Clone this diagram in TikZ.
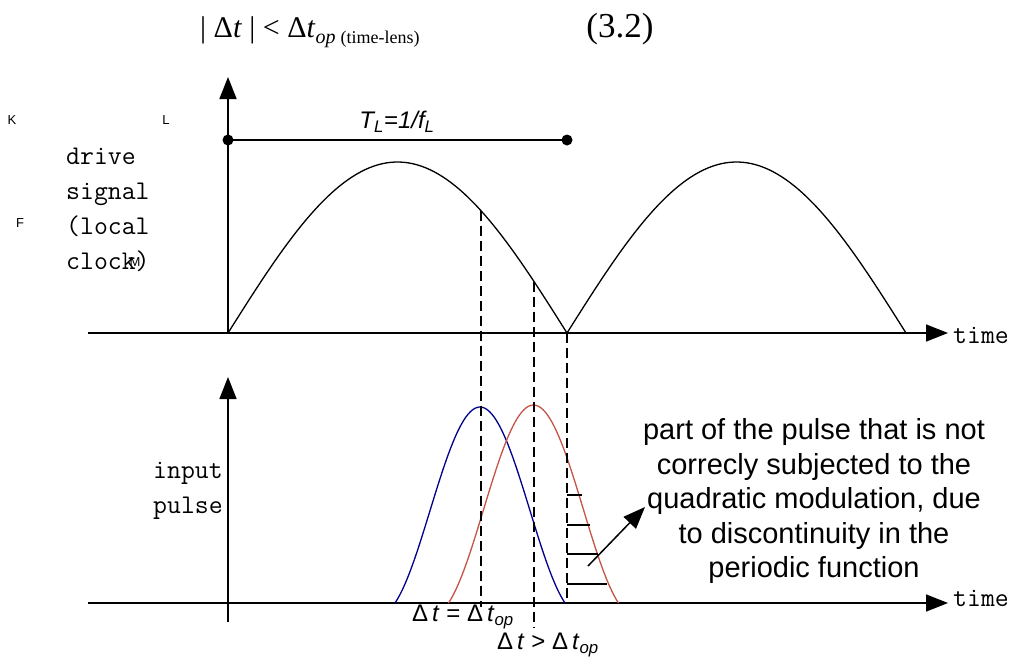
\documentclass[tikz,border=0pt]{standalone}
\usepackage{fontspec}
\setmainfont{Liberation Serif}
\newfontfamily\arialfont{Liberation Sans}
\usetikzlibrary{arrows.meta}

\begin{document}
\begin{tikzpicture}[
    x=1pt, y=-1pt,
    >={Triangle[length=22pt,width=17pt]},
    declare function={
      arch(\x)=333-171*sin(0.53097*(\x-228));
      pulse(\d)=((1+cos(1.8*\d))/2-0.0545)/0.9455;
    },
    axis/.style={line width=1.6pt, ->},
    curve/.style={line width=1.3pt},
    guide/.style={line width=1.3pt, dash pattern=on 10pt off 5pt},
    hatch/.style={line width=1.3pt},
    monolabel/.style={font=\ttfamily\fontsize{27}{35}\selectfont, align=left, inner sep=0pt},
    sanslabel/.style={font=\arialfont\fontsize{24}{28}\selectfont, inner sep=0pt},
    tinylabel/.style={font=\arialfont\fontsize{13}{15}\selectfont, inner sep=0pt}
]
\useasboundingbox (0,0) rectangle (1020,659);

% equation above the plots
\node[anchor=base west, inner sep=0pt, font=\fontsize{30}{34}\selectfont] (eq) at (200,37)
  {| Δ\textit{t} | < Δ\textit{t}\raisebox{-6pt}{\fontsize{20}{22}\selectfont\textit{op} \fontsize{18}{20}\selectfont(time-lens)}};
\node[anchor=base, inner sep=0pt, font=\fontsize{35}{38}\selectfont] (eqno) at (620,37) {(3.2)};

% stray letters
\node[tinylabel] (K) at (12,120) {K};
\node[tinylabel] (L) at (166,120) {L};
\node[tinylabel] (F) at (20,223) {F};
\node[tinylabel] (M) at (135,262) {M};

% upper plot: drive signal
\coordinate (o1) at (228,333);
\coordinate (x1a) at (88,333);
\coordinate (x1b) at (948,333);
\coordinate (y1b) at (228,77);
\draw[axis] (x1a) -- (x1b);
\draw[axis] (o1) -- (y1b);
\node[monolabel, anchor=west] (time1) at (953,335) {time};
\node[monolabel, anchor=west] (drive) at (66,210) {drive\\signal\\(local\\clock)};

\draw[curve] plot[domain=228:567, samples=80] (\x,{arch(\x)});
\draw[curve] plot[domain=567:906, samples=80] (\x,{arch(\x-339)});

\coordinate (pa) at (228,140);
\coordinate (pb) at (567,140);
\draw[line width=1.3pt] (pa) -- (pb);
\fill (pa) circle (5.5pt) (pb) circle (5.5pt);
\node[sanslabel, font=\arialfont\itshape\fontsize{24}{28}\selectfont] (period) at (397,122)
  {T\textsubscript{L}=1/f\textsubscript{L}};

% lower plot: input pulse
\coordinate (o2) at (228,603);
\coordinate (y2a) at (228,622);
\coordinate (x2a) at (88,603);
\coordinate (x2b) at (948,603);
\coordinate (y2b) at (228,377);
\draw[axis] (x2a) -- (x2b);
\draw[axis] (y2a) -- (y2b);
\node[monolabel, anchor=west] (time2) at (953,598) {time};
\node[monolabel, anchor=west] (input) at (153,491) {input\\pulse};

\draw[curve, color={rgb,255:red,0;green,0;blue,140}]
  plot[domain=-85:85, samples=80] ({480+\x},{603-196*pulse(\x)});
\draw[curve, color={rgb,255:red,196;green,84;blue,72}]
  plot[domain=-85:85, samples=80] ({533.5+\x},{603-198*pulse(\x)});

% dashed guides
\coordinate (g1t) at (481,{arch(481)});
\coordinate (g1b) at (481,607);
\coordinate (g2t) at (534,{arch(534)});
\coordinate (g2b) at (534,627);
\coordinate (g3t) at (567,333);
\coordinate (g3b) at (567,603);
\draw[guide] (g1t) -- (g1b);
\draw[guide] (g2t) -- (g2b);
\draw[guide] (g3t) -- (g3b);

% hatching of the cut part
\foreach \y/\x in {495/582, 525/590, 554/598, 584/607}
  \draw[hatch] (567,\y) -- (\x,\y);

\node[sanslabel] (eqop) at (463,617)
  {Δ\,\textit{t} = Δ\,\textit{t}\textsubscript{\textit{op}}};
\node[sanslabel] (gtop) at (548,645)
  {Δ\,\textit{t} > Δ\,\textit{t}\textsubscript{\textit{op}}};

% note and its arrow
\node[font=\arialfont\fontsize{29}{34.5}\selectfont, align=center, inner sep=0pt] (note) at (814,501)
  {part of the pulse that is not\\correcly subjected to the\\quadratic modulation, due\\to discontinuity in the\\periodic function};
\coordinate (cut) at (588,566);
\coordinate (tip) at (645,507);
\draw[line width=1.5pt, ->] (cut) -- (tip);
\end{tikzpicture}
\end{document}
